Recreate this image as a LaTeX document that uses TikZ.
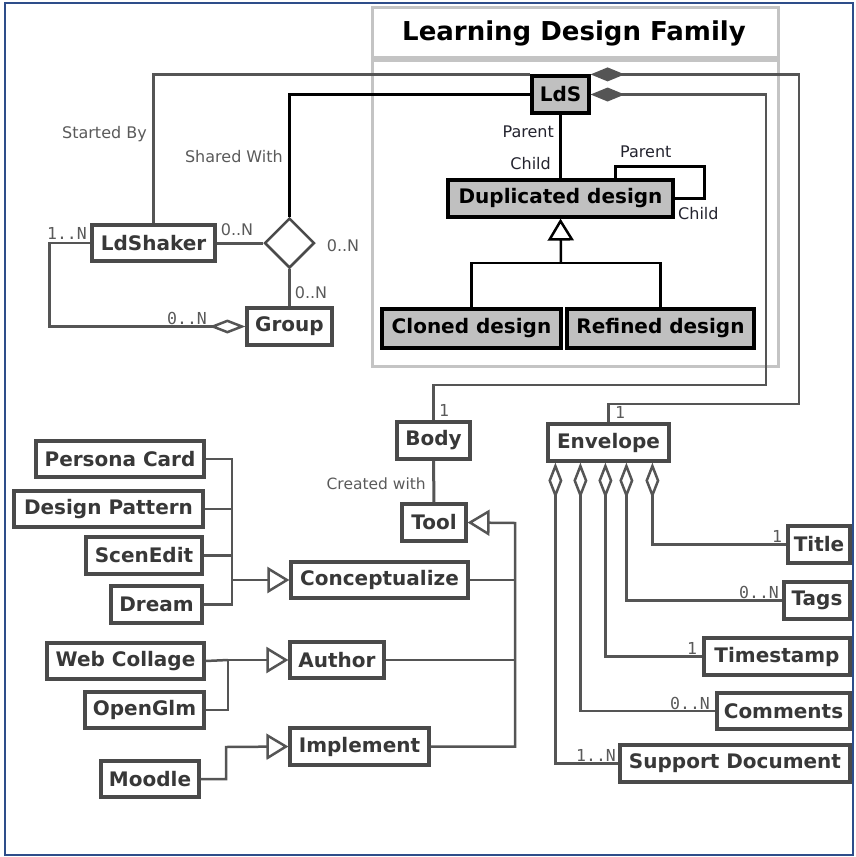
\documentclass[tikz,border=0pt]{standalone}
\usepackage{fontspec}
\setmainfont{DejaVu Sans}
\newfontfamily\multfont{DejaVu Sans Mono}
\usetikzlibrary{arrows.meta,shapes.geometric}

\definecolor{framecol}{HTML}{2E4D8A}
\definecolor{pkgcol}{HTML}{C4C4C4}
\definecolor{boxline}{HTML}{4A4A4A}
\definecolor{boxtext}{HTML}{383838}
\definecolor{boxfill}{HTML}{C0C0C0}
\definecolor{conncol}{HTML}{555555}
\definecolor{labelcol}{HTML}{5A5A5A}
\definecolor{rolecol}{HTML}{23232E}

% box given by its corners: style, name, x1, y1, x2, y2, text
\newcommand\umlbox[7]{%
  \node[#1, minimum width={#5-#3}, minimum height={#6-#4}] (#2)
    at ({(#3+#5)/2},{(#4+#6)/2}) {#7};}

\begin{document}
\begin{tikzpicture}[x=1pt, y=-1pt,
  whitebox/.style={draw=boxline, line width=3.2pt, fill=white, text=boxtext,
    inner sep=0pt, font=\bfseries\fontsize{20}{20}\selectfont},
  greybox/.style={draw=black, line width=3.2pt, fill=boxfill, text=black,
    inner sep=0pt, font=\bfseries\fontsize{20}{20}\selectfont},
  conn/.style={draw=conncol, line width=2.5pt},
  blackconn/.style={draw=black, line width=3pt},
  opentri/.style={-{Triangle[open, length=22pt, width=26pt]}},
  aggr/.style={{Diamond[open, length=36pt, width=14pt]}-},
  compo/.style={{Diamond[length=34pt, width=14pt, fill=conncol]}-},
  role/.style={text=rolecol, font=\fontsize{16}{16}\selectfont, inner sep=0pt},
  note/.style={text=labelcol, font=\fontsize{16}{16}\selectfont, inner sep=0pt},
  mult/.style={text=labelcol, font=\multfont\fontsize{16.5}{16.5}\selectfont, inner sep=0pt},
  smult/.style={text=labelcol, font=\fontsize{16}{16}\selectfont, inner sep=0pt},
]
\useasboundingbox (0,0) rectangle (856,857);

% outer frame
\draw[framecol, line width=2pt] (5,3) rectangle (853,855);

% package "Learning Design Family"
\draw[pkgcol, line width=3pt] (372,7) rectangle (778,57);
\draw[pkgcol, line width=3pt] (372,60) rectangle (778,366);
\node[font=\bfseries\fontsize{26}{26}\selectfont, inner sep=0pt] (pkgtitle) at (574,33) {Learning Design Family};

% classes inside the package
\umlbox{greybox}{lds}{532}{76}{589}{113}{LdS}
\umlbox{greybox}{dup}{448}{180}{673}{217}{Duplicated design}
\umlbox{greybox}{cloned}{382}{309}{561}{348}{Cloned design}
\umlbox{greybox}{refined}{567}{309}{754}{348}{Refined design}

% users and groups
\umlbox{whitebox}{ldshaker}{92}{225}{215}{261}{LdShaker}
\umlbox{whitebox}{group}{247}{308}{332}{345}{Group}
\node[draw=boxline, line width=2.5pt, fill=white, shape=diamond, aspect=1,
  minimum size=50pt, inner sep=0pt] (assoc) at (289.5,243) {};

% body, envelope, tool
\umlbox{whitebox}{body}{397}{422}{470}{459}{Body}
\umlbox{whitebox}{envelope}{548}{424}{669}{461}{Envelope}
\umlbox{whitebox}{tool}{402}{504}{466}{541}{Tool}

% envelope parts
\umlbox{whitebox}{title}{788}{526}{850}{563}{Title}
\umlbox{whitebox}{tags}{784}{582}{850}{619}{Tags}
\umlbox{whitebox}{timestamp}{704}{638}{850}{675}{Timestamp}
\umlbox{whitebox}{comments}{717}{693}{850}{729}{Comments}
\umlbox{whitebox}{support}{620}{745}{850}{782}{Support Document}

% tool categories
\umlbox{whitebox}{concept}{291}{562}{468}{598}{Conceptualize}
\umlbox{whitebox}{author}{290}{642}{384}{678}{Author}
\umlbox{whitebox}{implement}{290}{728}{429}{765}{Implement}

% concrete tools
\umlbox{whitebox}{persona}{36}{441}{204}{477}{Persona Card}
\umlbox{whitebox}{pattern}{14}{491}{203}{527}{Design Pattern}
\umlbox{whitebox}{scenedit}{86}{537}{202}{574}{ScenEdit}
\umlbox{whitebox}{dream}{111}{586}{202}{623}{Dream}
\umlbox{whitebox}{webcollage}{47}{643}{204}{679}{Web Collage}
\umlbox{whitebox}{openglm}{85}{692}{204}{728}{OpenGlm}
\umlbox{whitebox}{moodle}{101}{761}{199}{797}{Moodle}

% routing points
\coordinate (envturn) at (799,404);
\coordinate (bodyturn) at (766,385);
\coordinate (loopcorner) at (704,166);
\coordinate (genbus) at (561,263);
\coordinate (toolbus) at (515,523);
\coordinate (conbus) at (232,580);
\coordinate (authbus) at (228,660);
\coordinate (implbus) at (226,747);

% LdShaker / LdS / Group
\draw[conn] (ldshaker.north) |- (lds.north west);
\node[note, anchor=east] (startedby) at (147,134) {Started By};
\draw[blackconn, line width=3.5pt] (assoc.north) |- (lds.west);
\node[note, anchor=east] (sharedwith) at (283,157) {Shared With};
\draw[conn, line width=3pt] (ldshaker.east) -- (assoc.west);
\draw[conn, line width=3pt] (assoc.south) -- (group.north);
\draw[conn, aggr] (group.west) -| ([xshift=-41pt]ldshaker.west) -- (ldshaker.west);
\node[mult] (m1) at (67,233) {1..N};
\node[smult] (m2) at (237,230) {0..N};
\node[smult] (m3) at (343,246) {0..N};
\node[smult] (m4) at (311,293) {0..N};
\node[mult] (m5) at (187,318) {0..N};

% LdS composed of Body and Envelope
\draw[conn, compo] (lds.north east) -| (envturn) -| (envelope.north);
\draw[conn, compo] (lds.east) -| (bodyturn) -| (body.north);
\node[mult] (m6) at (444,410) {1};
\node[mult] (m7) at (620,412) {1};

% family hierarchy
\draw[blackconn] (lds.south) -- (dup.north);
\node[role, anchor=east] (par1) at (554,132) {Parent};
\node[role, anchor=east] (chi1) at (551,164) {Child};
\draw[blackconn] ([xshift=54.5pt]dup.north) |- (loopcorner) |- (dup.east);
\node[role, anchor=west] (par2) at (620,152) {Parent};
\node[role, anchor=west] (chi2) at (678,214) {Child};
\draw[blackconn, line width=2.5pt] (cloned.north) |- (genbus) -| (refined.north);
\draw[blackconn, line width=2.5pt, opentri] (genbus) -- (dup.south);

% body created with tool
\draw[conn, line width=3pt] (body.south) -- (tool.north);
\node[note, anchor=east, font=\fontsize{15.5}{15.5}\selectfont] (createdwith) at (426,484) {Created with};

% envelope aggregations
\draw[conn, aggr] ([xshift=106pt]envelope.south west) |- (title.west);
\draw[conn, aggr] ([xshift=80pt]envelope.south west) |- (tags.west);
\draw[conn, aggr] ([xshift=59pt]envelope.south west) |- (timestamp.west);
\draw[conn, aggr] ([xshift=34pt]envelope.south west) |- (comments.west);
\draw[conn, aggr] ([xshift=9pt]envelope.south west) |- (support.west);
\node[mult] (m8) at (777,536) {1};
\node[mult] (m9) at (759,592) {0..N};
\node[mult] (m10) at (692,648) {1};
\node[mult] (m11) at (690,703) {0..N};
\node[mult] (m12) at (596,755) {1..N};

% tool categories specialise Tool
\draw[conn, opentri] (implement.east) -| (toolbus) -- (tool.east);
\draw[conn] (concept.east) -- (concept.east -| toolbus);
\draw[conn] (author.east) -- (author.east -| toolbus);

% conceptualization tools
\draw[conn] (persona.east) -| (conbus);
\draw[conn] (dream.east) -| (conbus);
\draw[conn] (pattern.east) -- (pattern.east -| conbus);
\draw[conn] (scenedit.east) -- (scenedit.east -| conbus);
\draw[conn, opentri] (conbus) -- (concept.west);

% authoring tools
\draw[conn] (webcollage.east) -- (authbus);
\draw[conn] (openglm.east) -| (authbus);
\draw[conn, opentri] (authbus) -- (author.west);

% implementation tools
\draw[conn, opentri] (moodle.east) -| (implbus) -- (implement.west);

\end{tikzpicture}
\end{document}
